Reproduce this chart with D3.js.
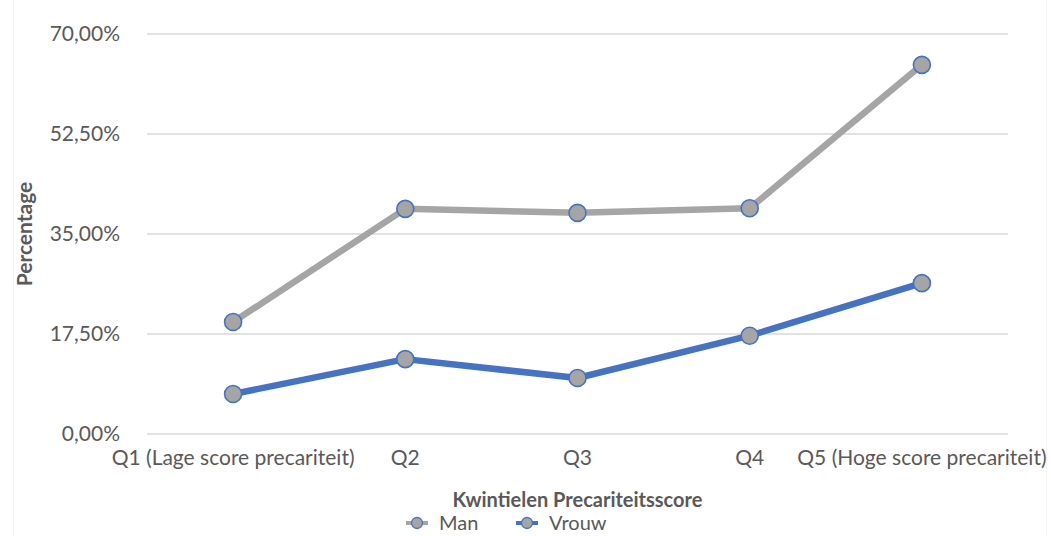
<!DOCTYPE html>
<html>
<head>
<meta charset="utf-8">
<script src="https://cdn.jsdelivr.net/npm/d3@7"></script>
<style>
  html, body { margin: 0; padding: 0; background: #fff; }
  svg { display: block; font-family: Lato, "Open Sans", sans-serif; }
</style>
</head>
<body>
<svg id="chart" width="1051" height="536"></svg>
<script>
// Quintiles of the precarity score
const categories = ["Q1 (Lage score precariteit)", "Q2", "Q3", "Q4", "Q5 (Hoge score precariteit)"];
// Share per quintile, in percent
const manValues   = [19.6, 39.4, 38.7, 39.5, 64.6];
const vrouwValues = [7.0, 13.1, 9.8, 17.2, 26.4];
const yTicks = [0, 17.5, 35, 52.5, 70];
const seriesNames = ["Man", "Vrouw"];

const W = 1051, H = 536;
const margin = { left: 147, right: 43, top: 34, bottom: 102 };
const fontSize = "21px";

const svg = d3.select("#chart");

// faint outer frame edges
svg.append("line").attr("x1", 13.5).attr("x2", 13.5).attr("y1", 0).attr("y2", H)
  .attr("stroke", "#f2f2f2").attr("stroke-width", 1);
svg.append("line").attr("x1", 1046.5).attr("x2", 1046.5).attr("y1", 0).attr("y2", H)
  .attr("stroke", "#f2f2f2").attr("stroke-width", 1);

const x = d3.scaleBand().domain(categories)
  .range([margin.left, W - margin.right]);
const y = d3.scaleLinear().domain([0, 70])
  .range([H - margin.bottom, margin.top]);

const fmt = v => d3.format(".2f")(v).replace(".", ",") + "%";

// horizontal gridlines
svg.append("g").selectAll("line").data(yTicks).join("line")
  .attr("x1", margin.left).attr("x2", W - margin.right)
  .attr("y1", d => y(d)).attr("y2", d => y(d))
  .attr("stroke", "#d9d9d9").attr("stroke-width", 1.5);

// y axis labels
const yAxis = d3.axisLeft(y).tickValues(yTicks).tickFormat(fmt).tickSize(0).tickPadding(0);
const gy = svg.append("g").attr("transform", `translate(${margin.left - 27},0)`).call(yAxis);
gy.select(".domain").remove();
gy.selectAll("text").attr("fill", "#595959").style("font-size", fontSize)
  .style("font-family", "Lato, 'Open Sans', sans-serif");

// x axis labels
const xAxis = d3.axisBottom(x).tickSize(0).tickPadding(0);
const gx = svg.append("g").attr("transform", `translate(0,${H - margin.bottom + 16})`).call(xAxis);
gx.select(".domain").remove();
gx.selectAll("text").attr("fill", "#595959").style("font-size", fontSize)
  .style("font-family", "Lato, 'Open Sans', sans-serif");

// axis titles
svg.append("text").attr("x", (margin.left + W - margin.right) / 2).attr("y", 507)
  .attr("text-anchor", "middle").attr("fill", "#595959")
  .style("font-size", "20px").style("font-weight", "bold")
  .text("Kwintielen Precariteitsscore");
svg.append("text")
  .attr("transform", `translate(32,${y(35)}) rotate(-90)`)
  .attr("text-anchor", "middle").attr("fill", "#595959")
  .style("font-size", "21px").style("font-weight", "bold")
  .text("Percentage");

const colors = { Man: "#a5a5a5", Vrouw: "#4472c4" };
const series = [
  { name: "Man", values: manValues },
  { name: "Vrouw", values: vrouwValues }
];
const cx = c => x(c) + x.bandwidth() / 2;

const line = d3.line().x((d, i) => cx(categories[i])).y(d => y(d));

series.forEach(s => {
  svg.append("path").datum(s.values)
    .attr("d", line).attr("fill", "none")
    .attr("stroke", colors[s.name]).attr("stroke-width", 6.5)
    .attr("stroke-linejoin", "round");
});
series.forEach(s => {
  svg.append("g").selectAll("circle").data(s.values).join("circle")
    .attr("cx", (d, i) => cx(categories[i])).attr("cy", d => y(d))
    .attr("r", 8.5)
    .attr("fill", "#a5a5a5").attr("stroke", "#4472c4").attr("stroke-width", 1.6);
});

// legend
const legendX = [406, 516];
seriesNames.forEach((name, i) => {
  const g = svg.append("g").attr("transform", `translate(${legendX[i]},523)`);
  g.append("line").attr("x1", 0).attr("x2", 22).attr("y1", 0).attr("y2", 0)
    .attr("stroke", colors[name]).attr("stroke-width", 4);
  g.append("circle").attr("cx", 11).attr("cy", 0).attr("r", 5.5)
    .attr("fill", "#a5a5a5").attr("stroke", "#4472c4").attr("stroke-width", 1.3);
  g.append("text").attr("x", 33).attr("y", 0).attr("dy", "0.35em")
    .attr("fill", "#595959").style("font-size", "20px").text(name);
});
</script>
</body>
</html>
